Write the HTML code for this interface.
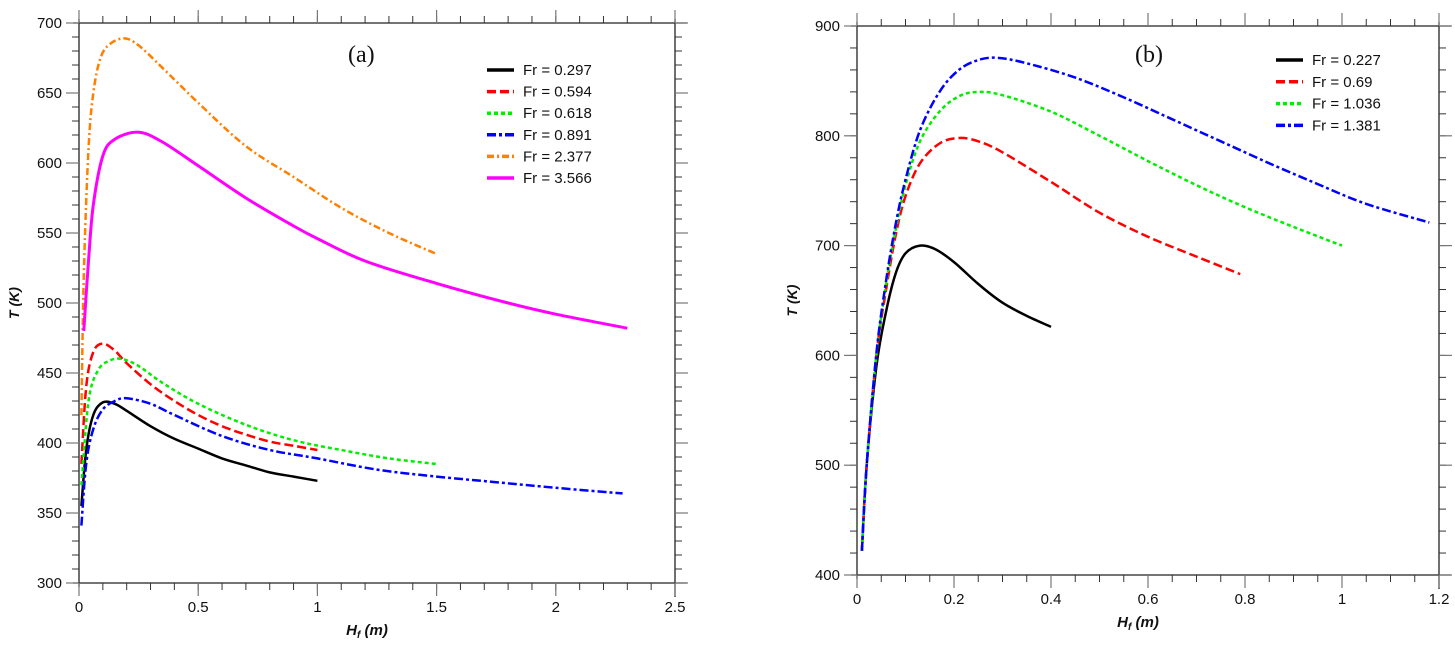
<!DOCTYPE html>
<html><head><meta charset="utf-8">
<style>
html,body{margin:0;padding:0;background:#fff;}
svg text{font-family:"Liberation Sans",sans-serif;}
</style></head>
<body>
<svg id="chart" width="1455" height="649" viewBox="0 0 1455 649" xmlns="http://www.w3.org/2000/svg"></svg>
<script>
// ---------- Panel (a) data ----------
const aX297 = [0.01,0.03,0.06,0.1,0.15,0.2,0.3,0.4,0.5,0.6,0.7,0.8,0.9,1.0];
const aY297 = [355,395,420,429,428,423,412,403,396,389,384,379,376,373];
const aX594 = [0.01,0.03,0.06,0.1,0.15,0.2,0.3,0.4,0.5,0.6,0.7,0.8,0.9,1.0];
const aY594 = [385,440,465,471,466,457,442,430,420,412,406,401,398,395];
const aX618 = [0.01,0.04,0.08,0.13,0.18,0.25,0.35,0.5,0.7,0.9,1.1,1.3,1.5];
const aY618 = [370,430,452,459,460,455,443,428,413,402,395,389,385];
const aX891 = [0.01,0.03,0.06,0.1,0.15,0.2,0.3,0.4,0.6,0.8,1.0,1.25,1.5,1.75,2.0,2.28];
const aY891 = [341,385,410,424,430,432,428,420,405,395,389,381,376,372,368,364];
const aX2377 = [0.01,0.02,0.04,0.06,0.09,0.13,0.19,0.25,0.35,0.5,0.7,0.9,1.1,1.3,1.5];
const aY2377 = [420,520,610,650,675,685,689,684,668,643,612,590,568,550,535];
const aX3566 = [0.02,0.04,0.06,0.1,0.15,0.25,0.35,0.5,0.7,0.9,1.0,1.2,1.5,1.8,2.0,2.3];
const aY3566 = [480,530,570,605,617,622,615,598,575,555,546,530,514,500,492,482];
const aXTicks = [0,0.5,1,1.5,2,2.5];
const aXTickLabels = ["0","0.5","1","1.5","2","2.5"];
const aYTicks = [300,350,400,450,500,550,600,650,700];
const aYTickLabels = ["300","350","400","450","500","550","600","650","700"];
const aLegend = ["Fr = 0.297","Fr = 0.594","Fr = 0.618","Fr = 0.891","Fr = 2.377","Fr = 3.566"];

// ---------- Panel (b) data ----------
const bX227 = [0.01,0.02,0.04,0.06,0.08,0.1,0.13,0.16,0.2,0.25,0.3,0.35,0.4];
const bY227 = [422,500,590,640,675,693,700,697,685,665,648,636,626];
const bX69 = [0.01,0.02,0.04,0.06,0.08,0.1,0.13,0.17,0.21,0.25,0.3,0.4,0.5,0.6,0.7,0.79];
const bY69 = [422,500,600,660,710,745,775,793,798,795,785,758,730,708,690,674];
const bX1036 = [0.01,0.02,0.04,0.06,0.08,0.1,0.13,0.17,0.21,0.25,0.3,0.4,0.5,0.6,0.7,0.8,0.9,1.0];
const bY1036 = [422,500,600,665,715,755,795,822,836,840,837,822,800,777,755,735,717,700];
const bX1381 = [0.01,0.02,0.04,0.06,0.08,0.1,0.13,0.17,0.21,0.25,0.29,0.35,0.45,0.55,0.65,0.75,0.85,0.95,1.05,1.18];
const bY1381 = [422,500,602,668,720,760,805,840,860,869,871,866,853,835,815,795,775,756,738,721];
const bXTicks = [0,0.2,0.4,0.6,0.8,1,1.2];
const bXTickLabels = ["0","0.2","0.4","0.6","0.8","1","1.2"];
const bYTicks = [400,500,600,700,800,900];
const bYTickLabels = ["400","500","600","700","800","900"];
const bLegend = ["Fr = 0.227","Fr = 0.69","Fr = 1.036","Fr = 1.381"];

const NS = "http://www.w3.org/2000/svg";
const svg = document.getElementById('chart');
function mk(tag, attrs, parent){
  const e = document.createElementNS(NS, tag);
  for (const k in attrs) e.setAttribute(k, attrs[k]);
  (parent||svg).appendChild(e);
  return e;
}
function smoothPath(pts){
  let d = 'M' + pts[0][0].toFixed(1) + ',' + pts[0][1].toFixed(1);
  for (let i = 0; i < pts.length - 1; i++){
    const p0 = pts[Math.max(0, i-1)], p1 = pts[i], p2 = pts[i+1], p3 = pts[Math.min(pts.length-1, i+2)];
    const c1x = p1[0] + (p2[0]-p0[0])/6, c1y = p1[1] + (p2[1]-p0[1])/6;
    const c2x = p2[0] - (p3[0]-p1[0])/6, c2y = p2[1] - (p3[1]-p1[1])/6;
    d += ' C' + c1x.toFixed(1)+','+c1y.toFixed(1)+' '+c2x.toFixed(1)+','+c2y.toFixed(1)+' '+p2[0].toFixed(1)+','+p2[1].toFixed(1);
  }
  return d;
}

function panel(p){
  const g = mk('g', {});
  
  
  const sx = v => p.L + (v - p.xmin) / (p.xmax - p.xmin) * (p.R - p.L);
  const sy = v => p.B - (v - p.ymin) / (p.ymax - p.ymin) * (p.B - p.T);
  const ax = mk('g', {stroke:'#222','stroke-width':1.3}, g);
  
  
  mk('line', {x1:p.L, y1:p.T-4, x2:p.L, y2:p.B+4}, ax);
  mk('line', {x1:p.L-6, y1:p.B, x2:p.R+12, y2:p.B}, ax);
  mk('line', {x1:p.L-6, y1:p.T, x2:p.R+12, y2:p.T}, ax);
  mk('line', {x1:p.R, y1:p.T-4, x2:p.R, y2:p.B+14}, ax);
  const nx = Math.round((p.xmax - p.xmin) / p.xminor);
  for (let i = 0; i <= nx; i++){
    const x = sx(p.xmin + i * p.xminor);
    mk('line', {x1:x, y1:p.B, x2:x, y2:p.B+7, stroke:'#333','stroke-width':1}, g);
    mk('line', {x1:x, y1:p.T, x2:x, y2:p.T-7, stroke:'#333','stroke-width':1}, g);
  }
  const ny = Math.round((p.ymax - p.ymin) / p.yminor);
  for (let i = 0; i <= ny; i++){
    const y = sy(p.ymin + i * p.yminor);
    mk('line', {x1:p.L, y1:y, x2:p.L-7, y2:y, stroke:'#333','stroke-width':1}, g);
    mk('line', {x1:p.R, y1:y, x2:p.R+7, y2:y, stroke:'#333','stroke-width':1}, g);
  }
  p.xt.forEach((v, i) => {
    const x = sx(v);
    mk('line', {x1:x, y1:p.B, x2:x, y2:p.B+13, stroke:'#777','stroke-width':1.2}, g);
    mk('line', {x1:x, y1:p.T, x2:x, y2:p.T-13, stroke:'#777','stroke-width':1.2}, g);
    const t = mk('text', {x:x, y:p.B+29, 'text-anchor':'middle', 'font-size':15, fill:'#111'}, g);
    
    
    t.textContent = p.xtl[i];
  });
  p.yt.forEach((v, i) => {
    const y = sy(v);
    mk('line', {x1:p.L, y1:y, x2:p.L-13, y2:y, stroke:'#777','stroke-width':1.2}, g);
    mk('line', {x1:p.R, y1:y, x2:p.R+13, y2:y, stroke:'#777','stroke-width':1.2}, g);
    const t = mk('text', {x:p.L-17, y:y+5, 'text-anchor':'end', 'font-size':15, fill:'#111'}, g);
    
    
    t.textContent = p.ytl[i];
  });
  const xt = mk('text', {x:(p.L+p.R)/2 - 10, y:p.B+52, 'text-anchor':'middle', 'font-size':15, 'font-weight':'bold', 'font-style':'italic', fill:'#111'}, g);
  
  
  xt.innerHTML = 'H<tspan font-size="10" dy="3">f</tspan><tspan dy="-3"> (m)</tspan>';
  const yt = mk('text', {x:0, y:0, 'text-anchor':'middle', 'font-size':14, 'font-weight':'bold', 'font-style':'italic', fill:'#111', transform:'translate('+(p.L-60)+','+((p.T+p.B)/2)+') rotate(-90)'}, g);
  
  
  yt.textContent = 'T (K)';
  const pl = mk('text', {x:p.labX, y:p.labY, 'font-size':24, fill:'#111'}, g);
  
  
  pl.style.fontFamily = '"Liberation Serif", serif';
  pl.textContent = p.label;
  p.series.forEach((s, k) => {
    const pts = s.x.map((v, i) => [sx(v), sy(s.y[i])]);
    const path = mk('path', {d:smoothPath(pts), fill:'none', stroke:s.c, 'stroke-width':s.w||2.5, 'stroke-dasharray':s.dash, 'stroke-linejoin':'round'}, g);
    
    
    const ly = p.legY + k * p.legDy;
    const ll = mk('line', {x1:p.legX, y1:ly, x2:p.legX+27, y2:ly, stroke:s.c, 'stroke-width':3.5, 'stroke-dasharray':s.dash}, g);
    
    
    const lt = mk('text', {x:p.legX+36, y:ly+5, 'font-size':15, fill:'#111'}, g);
    
    
    lt.textContent = p.leg[k];
  });
}

panel({name:'panel-a', L:79, R:675, T:23, B:583, xmin:0, xmax:2.5, ymin:300, ymax:700,
  xminor:0.1, yminor:10, xt:aXTicks, xtl:aXTickLabels, yt:aYTicks, ytl:aYTickLabels,
  label:'(a)', labX:348, labY:62, legX:487, legY:70, legDy:21.6, leg:aLegend,
  series:[
    {x:aX297, y:aY297, c:'#000', dash:'none'},
    {x:aX594, y:aY594, c:'#ff0000', dash:'9,4'},
    {x:aX618, y:aY618, c:'#00ee00', dash:'4,3'},
    {x:aX891, y:aY891, c:'#0000ff', dash:'9,3,3,3'},
    {x:aX2377, y:aY2377, c:'#ff8000', dash:'7,3,2,3'},
    {x:aX3566, y:aY3566, c:'#ff00ff', dash:'none', w:3}
  ]});

panel({name:'panel-b', L:857, R:1439, T:26, B:575, xmin:0, xmax:1.2, ymin:400, ymax:900,
  xminor:0.05, yminor:20, xt:bXTicks, xtl:bXTickLabels, yt:bYTicks, ytl:bYTickLabels,
  label:'(b)', labX:1135, labY:62, legX:1276, legY:60, legDy:21.8, leg:bLegend,
  series:[
    {x:bX227, y:bY227, c:'#000', dash:'none'},
    {x:bX69, y:bY69, c:'#ff0000', dash:'9,4'},
    {x:bX1036, y:bY1036, c:'#00ee00', dash:'4,3'},
    {x:bX1381, y:bY1381, c:'#0000ff', dash:'9,3,3,3'}
  ]});
</script>
</body></html>
